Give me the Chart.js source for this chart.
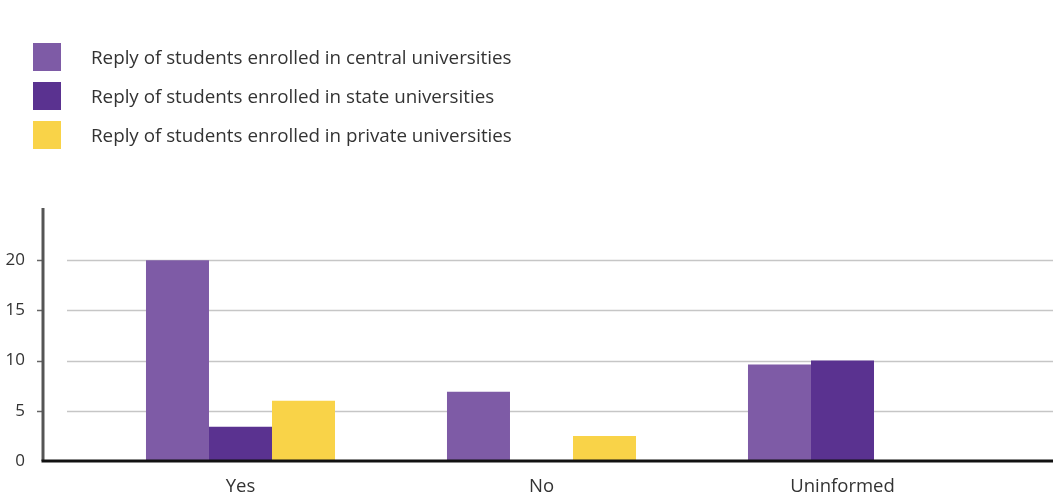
<!DOCTYPE html>
<html>
<head>
<meta charset="utf-8">
<script src="https://cdn.jsdelivr.net/npm/chart.js@4/dist/chart.umd.min.js"></script>
<style>
	html, body { margin: 0; padding: 0; background: #fff; }
	#wrap { position: relative; width: 1053px; height: 497px; }
	#chart { position: absolute; left: 0; top: 0; }
	#legend { position: absolute; left: 33px; top: 43px; font-family: 'Open Sans', sans-serif; font-size: 18.8px; color: #333; }
	.legend-row { display: flex; align-items: center; height: 28px; margin-bottom: 11px; }
	.legend-box { width: 28px; height: 28px; margin-right: 30px; }
</style>
</head>
<body>
<div id="wrap">
	<canvas id="chart" width="1053" height="497"></canvas>
	<div id="legend"></div>
</div>
<script>
(() => {
	'use strict'

	const categories = ['Yes', 'No', 'Uninformed'];
	const seriesNames = [
		'Reply of students enrolled in central universities',
		'Reply of students enrolled in state universities',
		'Reply of students enrolled in private universities'
	];
	const centralValues = [20, 6.9, 9.6];
	const stateValues = [3.4, 0, 10];
	const privateValues = [6, 2.5, 0];
	const yTicks = [0, 5, 10, 15, 20];

	const colors = ['#7e5ba6', '#5a3290', '#f9d348'];

	const legend = document.getElementById('legend');
	legend.innerHTML = seriesNames.map((name, i) => (
		`<div class="legend-row"><div class="legend-box" style="background:${colors[i]}"></div><span>${name}</span></div>`
	)).join('');

	// axis lines and grid drawn by hand so they can reach past the bar area
	const axisPlugin = {
		id: 'axisLines',
		beforeDatasetsDraw(chart) {
			const { ctx, chartArea, scales } = chart;
			const axisX = chartArea.left - 47;
			ctx.save();
			ctx.lineWidth = 1.5;
			yTicks.forEach((v) => {
				if (v === 0) return;
				const y = Math.round(scales.y.getPixelForValue(v)) + 0.5;
				ctx.strokeStyle = '#c6c6c6';
				ctx.beginPath();
				ctx.moveTo(axisX + 24, y);
				ctx.lineTo(chart.width, y);
				ctx.stroke();
				ctx.strokeStyle = '#666';
				ctx.beginPath();
				ctx.moveTo(axisX - 6, y);
				ctx.lineTo(axisX, y);
				ctx.stroke();
			});
			ctx.restore();
		},
		afterDatasetsDraw(chart) {
			const { ctx, chartArea, scales } = chart;
			const axisX = chartArea.left - 47;
			const zeroY = scales.y.getPixelForValue(0);
			ctx.save();
			ctx.strokeStyle = '#555';
			ctx.lineWidth = 3;
			ctx.beginPath();
			ctx.moveTo(axisX, chartArea.top);
			ctx.lineTo(axisX, zeroY);
			ctx.stroke();
			ctx.strokeStyle = '#111';
			ctx.beginPath();
			ctx.moveTo(axisX - 1.5, zeroY);
			ctx.lineTo(chart.width, zeroY);
			ctx.stroke();
			ctx.restore();
		}
	};

	new Chart(document.getElementById('chart'), {
		type: 'bar',
		data: {
			labels: categories,
			datasets: [
				{ label: seriesNames[0], data: centralValues, backgroundColor: colors[0] },
				{ label: seriesNames[1], data: stateValues, backgroundColor: colors[1] },
				{ label: seriesNames[2], data: privateValues, backgroundColor: colors[2] }
			]
		},
		options: {
			responsive: false,
			animation: false,
			layout: {
				padding: { top: 208, right: 60, bottom: 0, left: 0 }
			},
			datasets: {
				bar: {
					barPercentage: 1,
					categoryPercentage: 0.628
				}
			},
			plugins: {
				legend: { display: false },
				tooltip: { enabled: false }
			},
			scales: {
				x: {
					grid: { display: false, drawTicks: false },
					border: { display: false },
					afterFit: function(scale) {
						scale.height = 36;
					},
					ticks: {
						padding: 15,
						color: '#333',
						font: { family: 'Open Sans', size: 18.5 }
					}
				},
				y: {
					min: 0,
					max: 25.2,
					grid: { display: false, drawTicks: false },
					border: { display: false },
					afterBuildTicks: function(scale) {
						scale.ticks = yTicks.map((v) => ({ value: v }));
					},
					afterFit: function(scale) {
						// big label padding must not push the plot down
						scale.width = 90;
						scale.paddingTop = 0;
						scale.paddingBottom = 0;
					},
					ticks: {
						padding: 65,
						color: '#333',
						font: { family: 'Open Sans', size: 17 }
					}
				}
			}
		},
		plugins: [axisPlugin]
	});
})()
</script>
</body>
</html>
